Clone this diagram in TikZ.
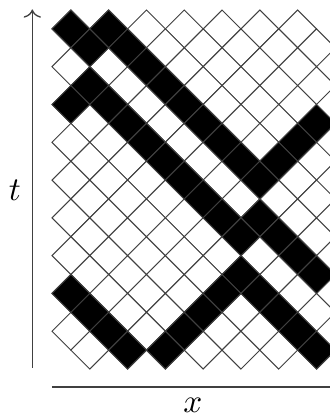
\documentclass[tikz,border=0pt]{standalone}
\usepackage{amsmath}
\usepackage{tikz}
\usetikzlibrary{arrows.meta}

\begin{document}
\begin{tikzpicture}[x=0.2cm,y=0.2cm,
    cell/.style={draw=black!75,line width=0.3pt,fill=white},
    alive/.style={cell,fill=black},
    axis/.style={draw=black!75,line width=0.4pt}]
  \useasboundingbox (0,0) rectangle (17.46,22.12);
  \begin{scope}
    \clip (0,0) rectangle (17.46,22.12);
    % staggered lattice, odd rows shifted by half a cell
    \foreach \r in {0,...,17}{
      \foreach \k in {0,...,6}{
        \pgfmathtruncatemacro{\c}{2*\k+1+mod(\r,2)}
        \draw[cell] (2.75+\c,20.59-\r) +(-1,0) -- +(0,1) -- +(1,0) -- +(0,-1) -- cycle;
      }
    }
    % occupied sites (column/row)
    \foreach \c/\r in {1/0,3/0,2/1,4/1,5/2,2/3,6/3,1/4,3/4,7/4,4/5,8/5,14/5,
        5/6,9/6,13/6,6/7,10/7,12/7,7/8,11/8,8/9,9/10,11/10,10/11,12/11,
        13/12,10/13,14/13,1/14,9/14,11/14,2/15,8/15,12/15,3/16,7/16,13/16,
        4/17,6/17,14/17}{
      \draw[alive] (2.75+\c,20.59-\r) +(-1,0) -- +(0,1) -- +(1,0) -- +(0,-1) -- cycle;
    }
  \end{scope}

  \coordinate (t0) at (1.71,2.65);
  \coordinate (t1) at (1.71,21.62);
  \coordinate (x0) at (2.75,1.64);
  \coordinate (x1) at (17.46,1.64);
  \draw[axis,->] (t0) -- (t1);
  \draw[axis] (x0) -- (x1);
  \node (tlabel) at (0.79,12.06) {$t$};
  \node (xlabel) at (10.21,0.69) {$x$};
\end{tikzpicture}
\end{document}
